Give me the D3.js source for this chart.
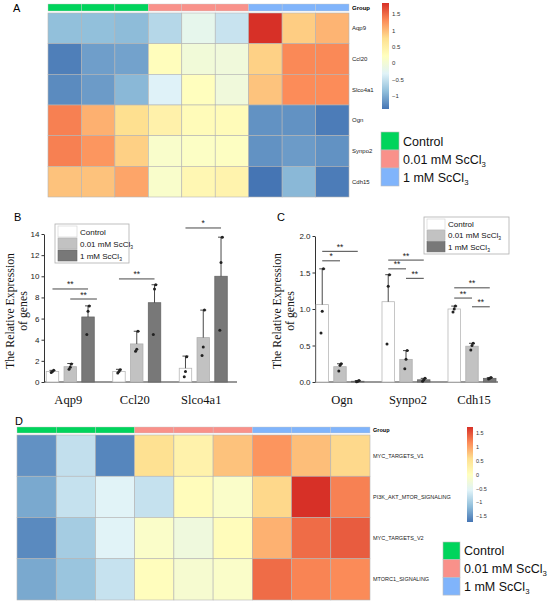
<!DOCTYPE html>
<html>
<head>
<meta charset="utf-8">
<script src="https://cdn.jsdelivr.net/npm/d3@7"></script>
<style>
  body { margin: 0; background: #fff; }
  text { font-family: Arial, "Liberation Sans", sans-serif; }
  text.serif { font-family: "Liberation Serif", "Times New Roman", serif; }
</style>
</head>
<body>
<script>
// ---------- data ----------
const groupNames = ["Control", "0.01 mM ScCl", "1 mM ScCl"];
const groupSubs = ["", "3", "3"];
const groupColors = ["#00d45c", "#f9918a", "#80b4fb"];
const sampleGroups = [0, 0, 0, 1, 1, 1, 2, 2, 2];

// heatmap A (z-scores)
const heatAGenes = ["Aqp9", "Ccl20", "Slco4a1", "Ogn", "Synpo2", "Cdh15"];
const heatAValues = [
  [-0.87, -0.87, -0.9, -0.63, -0.22, -0.5, 1.84, 0.88, 1.04],
  [-1.35, -1.12, -1.09, 0.24, -0.03, -0.06, 0.85, 1.32, 1.32],
  [-1.26, -1.14, -0.93, -0.34, 0.22, -0.06, 0.94, 1.3, 1.3],
  [1.37, 1.07, 0.75, 0.45, 0.28, 0.28, -1.21, -1.21, -1.37],
  [1.37, 1.24, 0.86, 0.1, 0.15, 0.18, -1.21, -1.14, -1.21],
  [0.95, 0.95, 1.14, 0.1, 0.35, 0.42, -1.42, -0.93, -1.37]
];
const heatARange = [-1.42, 1.84];
const heatATicks = [1.5, 1, 0.5, 0, -0.5, -1];

// heatmap D (GSVA scores)
const heatDSets = ["MYC_TARGETS_V1", "PI3K_AKT_MTOR_SIGNALING", "MYC_TARGETS_V2", "MTORC1_SIGNALING"];
const heatDValues = [
  [-1.5, -0.79, -1.59, 0.55, 0.24, 0.78, 1.09, 0.81, 0.62],
  [-1.32, -0.77, -0.56, -0.77, 0.05, -0.1, 0.63, 1.72, 1.22],
  [-1.56, -1.0, -0.56, -0.1, -0.3, 0.05, 0.9, 1.35, 1.45],
  [-1.32, -1.08, -0.76, 0.03, -0.17, -0.1, 1.35, 1.2, 1.16]
];
const heatDRange = [-1.72, 1.72];
const heatDTicks = [1.5, 1, 0.5, 0, -0.5, -1, -1.5];

// bar chart B
const barBGenes = ["Aqp9", "Ccl20", "Slco4a1"];
const barBMeans = [[1.0, 1.45, 6.15], [1.0, 3.6, 7.5], [1.3, 4.2, 10.0]];
const barBTops = [[1.1, 1.75, 7.2], [1.2, 4.8, 9.2], [2.45, 6.8, 13.7]];
const barBPoints = [
  [[0.9, 1.0, 1.1], [1.2, 1.4, 1.7], [4.5, 6.7, 7.2]],
  [[0.85, 1.0, 1.15], [2.9, 3.1, 4.8], [4.5, 8.8, 9.2]],
  [[0.5, 1.0, 2.4], [2.5, 3.3, 6.8], [4.9, 11.3, 13.7]]
];
const barBTicks = [0, 2, 4, 6, 8, 10, 12, 14];
const barBSig = [
  { gene: 0, from: 0, to: 2, y: 8.8, label: "**" },
  { gene: 0, from: 1, to: 2.5, y: 7.85, label: "**" },
  { gene: 1, from: 0, to: 2, y: 9.75, label: "**" },
  { gene: 2, from: 0, to: 2, y: 14.57, label: "*" }
];

// bar chart C
const barCGenes = ["Ogn", "Synpo2", "Cdh15"];
const barCMeans = [[1.06, 0.21, 0.01], [1.1, 0.31, 0.03], [1.0, 0.49, 0.05]];
const barCTops = [[1.55, 0.25, 0.02], [1.47, 0.43, 0.05], [1.04, 0.53, 0.06]];
const barCPoints = [
  [[0.67, 0.97, 1.55], [0.15, 0.23, 0.25], [0.005, 0.01, 0.02]],
  [[0.52, 1.31, 1.47], [0.18, 0.31, 0.43], [0.01, 0.03, 0.05]],
  [[0.96, 1.0, 1.04], [0.44, 0.5, 0.53], [0.04, 0.05, 0.06]]
];
const barCTicks = [0, 0.5, 1.0, 1.5, 2.0];
const barCSig = [
  { gene: 0, from: 0, to: 2, y: 1.79, label: "**" },
  { gene: 0, from: 0, to: 1, y: 1.66, label: "*" },
  { gene: 1, from: 0, to: 2, y: 1.67, label: "**" },
  { gene: 1, from: 0, to: 1, y: 1.55, label: "**" },
  { gene: 1, from: 1, to: 2, y: 1.42, label: "**" },
  { gene: 2, from: 0, to: 2, y: 1.29, label: "**" },
  { gene: 2, from: 0, to: 1, y: 1.15, label: "**" },
  { gene: 2, from: 1, to: 2, y: 1.03, label: "**" }
];

const barFills = ["#ffffff", "#c2c2c2", "#787878"];
const barStrokes = ["#b8b8b8", "#b0b0b0", "#666666"];
const palette = ["#4575b4", "#91bfdb", "#e0f3f8", "#ffffbf", "#fee090", "#fc8d59", "#d73027"];

// ---------- svg ----------
const svg = d3.select("body").append("svg").attr("width", 550).attr("height", 606);

function panelLetter(t, x, y) {
  svg.append("text").attr("x", x).attr("y", y).attr("font-size", 11).text(t);
}

function groupText(sel, i, size) {
  sel.append("tspan").text(groupNames[i]);
  if (groupSubs[i]) {
    sel.append("tspan").attr("font-size", size * 0.62).attr("dy", size * 0.25).text(groupSubs[i]);
  }
}

function heatmap(o) {
  const g = svg.append("g");
  const x = d3.scaleBand().domain(d3.range(9)).range([o.x0, o.x1]);
  const y = d3.scaleBand().domain(o.rows).range([o.y0, o.y1]);
  const color = d3.scaleLinear()
    .domain(d3.range(7).map(i => o.range[0] + i * (o.range[1] - o.range[0]) / 6))
    .range(palette);

  // group annotation bar
  g.selectAll(".ann").data(sampleGroups).enter().append("rect")
    .attr("x", (d, i) => x(i)).attr("y", o.barY0)
    .attr("width", x.bandwidth()).attr("height", o.barY1 - o.barY0)
    .attr("fill", d => groupColors[d]).attr("stroke", "#c8c8c8").attr("stroke-width", 0.4);
  g.append("text").attr("x", o.x1 + 3).attr("y", (o.barY0 + o.barY1) / 2 + 2)
    .attr("font-size", o.fs).attr("font-weight", "bold").text("Group");

  // cells
  o.rows.forEach((r, ri) => {
    g.selectAll(null).data(o.values[ri]).enter().append("rect")
      .attr("x", (d, i) => x(i)).attr("y", y(r))
      .attr("width", x.bandwidth()).attr("height", y.bandwidth())
      .attr("fill", d => color(d)).attr("stroke", "#b4b4b4").attr("stroke-width", 0.6);
  });
  g.selectAll(".rl").data(o.rows).enter().append("text")
    .attr("x", o.x1 + 3).attr("y", d => y(d) + y.bandwidth() / 2 + o.fs * 0.35)
    .attr("font-size", o.fs).attr("fill", "#222").text(d => d);

  // colour bar
  const cb = d3.scaleLinear().domain(o.range).range([o.cb.y1, o.cb.y0]);
  const gid = "grad" + o.id;
  const grad = svg.append("defs").append("linearGradient").attr("id", gid)
    .attr("x1", 0).attr("y1", 1).attr("x2", 0).attr("y2", 0);
  palette.forEach((c, i) => grad.append("stop").attr("offset", i / 6).attr("stop-color", c));
  g.append("rect").attr("x", o.cb.x).attr("y", o.cb.y0).attr("width", o.cb.w)
    .attr("height", o.cb.y1 - o.cb.y0).attr("fill", `url(#${gid})`);
  g.append("g").attr("transform", `translate(${o.cb.x + o.cb.w},0)`)
    .call(d3.axisRight(cb).tickValues(o.ticks).tickSize(0).tickPadding(3).tickFormat(d => String(d).replace("-", "\u2212")))
    .call(s => {
      s.select(".domain").remove();
      s.selectAll("text").attr("font-size", o.fs).attr("fill", "#333");
    });

  // group legend
  const lg = g.append("g");
  groupNames.forEach((n, i) => {
    const yy = o.lg.y + i * o.lg.h;
    lg.append("rect").attr("x", o.lg.x).attr("y", yy).attr("width", o.lg.w).attr("height", o.lg.h)
      .attr("fill", groupColors[i]).attr("stroke", "#bdbdbd").attr("stroke-width", 0.6);
    const t = lg.append("text").attr("x", o.lg.x + o.lg.w + 4).attr("y", yy + o.lg.h / 2 + 4.5)
      .attr("font-size", 12.5).attr("fill", "#111");
    groupText(t, i, 12.5);
  });
}

function barPanel(o) {
  const g = svg.append("g");
  const base = 382;
  const y = d3.scaleLinear().domain(o.domain).range([base, o.yTop]);
  const x = d3.scaleBand().domain(d3.range(o.genes.length)).range(o.xRange);
  const bw = x.bandwidth();
  const xi = d3.scaleBand().domain([0, 1, 2]).range([bw / 2 - 24, bw / 2 + 24]).paddingInner(0.3);
  const cx = (gi, j) => x(gi) + xi(0) + xi.bandwidth() / 2 + j * xi.step();

  // y axis
  g.append("g").attr("transform", `translate(${o.axisX},0)`)
    .call(d3.axisLeft(y).tickValues(o.ticks).tickFormat(o.fmt).tickSizeInner(2.5).tickSizeOuter(0).tickPadding(2))
    .call(s => {
      s.selectAll("text").attr("font-size", 8).attr("fill", "#222");
      s.selectAll("line").attr("stroke", "#333");
      s.select(".domain").attr("stroke", "#333");
    });
  // x axis line
  g.append("line").attr("x1", o.axisX).attr("x2", o.axisEnd).attr("y1", base).attr("y2", base)
    .attr("stroke", "#333").attr("stroke-width", 1);
  g.selectAll(".xl").data(o.genes).enter().append("text")
    .attr("class", "serif")
    .attr("x", (d, i) => x(i) + bw / 2 + o.labelShift).attr("y", 404)
    .attr("text-anchor", "middle").attr("font-size", 12.5).attr("fill", "#111").text(d => d);

  // y title
  const tt = g.append("text").attr("class", "serif")
    .attr("transform", `translate(${o.titleX},311) rotate(-90)`)
    .attr("text-anchor", "middle").attr("font-size", 11.8).attr("fill", "#111");
  tt.append("tspan").attr("x", 0).attr("dy", 0).text("The Relative Expression");
  tt.append("tspan").attr("x", 0).attr("dy", 13).text("of genes");

  o.genes.forEach((gene, gi) => {
    const gg = g.append("g");
    gg.selectAll("rect").data(o.means[gi]).enter().append("rect")
      .attr("x", (d, j) => x(gi) + xi(j)).attr("y", d => y(d))
      .attr("width", xi.bandwidth()).attr("height", d => base - y(d))
      .attr("fill", (d, j) => barFills[j]).attr("stroke", (d, j) => barStrokes[j]).attr("stroke-width", 0.8);
    // error bars (upper only)
    o.tops[gi].forEach((t, j) => {
      const c = cx(gi, j);
      gg.append("line").attr("x1", c).attr("x2", c).attr("y1", y(o.means[gi][j])).attr("y2", y(t))
        .attr("stroke", "#333").attr("stroke-width", 0.9);
      gg.append("line").attr("x1", c - 3).attr("x2", c + 3).attr("y1", y(t)).attr("y2", y(t))
        .attr("stroke", "#333").attr("stroke-width", 0.9);
    });
    // points
    o.points[gi].forEach((pts, j) => {
      gg.selectAll(null).data(pts).enter().append("circle")
        .attr("cx", (d, k) => cx(gi, j) + (k - 1) * 1.2).attr("cy", d => y(d))
        .attr("r", 1.5).attr("fill", "#222");
    });
  });

  // significance
  o.sig.forEach(s => {
    const x1 = cx(s.gene, s.from), x2 = cx(s.gene, s.to), yy = y(s.y);
    g.append("line").attr("x1", x1).attr("x2", x2).attr("y1", yy).attr("y2", yy)
      .attr("stroke", "#333").attr("stroke-width", 0.9);
    g.append("text").attr("x", (x1 + x2) / 2).attr("y", yy - 1.5).attr("text-anchor", "middle")
      .attr("font-size", 8.5).attr("fill", "#222").text(s.label);
  });

  // legend
  const L = o.legend;
  g.append("rect").attr("x", L.x).attr("y", L.y).attr("width", L.w).attr("height", L.h)
    .attr("fill", "#fff").attr("stroke", "#b0b0b0").attr("stroke-width", 0.8);
  groupNames.forEach((n, i) => {
    const yy = L.y + 2 + i * L.row;
    g.append("rect").attr("x", L.x + 3).attr("y", yy).attr("width", L.sw).attr("height", L.row - 1)
      .attr("fill", barFills[i]).attr("stroke", i === 0 ? "#d0d0d0" : barStrokes[i]).attr("stroke-width", 0.6);
    const t = g.append("text").attr("x", L.x + L.sw + 6).attr("y", yy + L.row / 2 + 2.5)
      .attr("font-size", 8).attr("fill", "#111");
    groupText(t, i, 8);
  });
}

// ---------- panels ----------
panelLetter("A", 13, 12);
heatmap({
  id: "A", rows: heatAGenes, values: heatAValues, range: heatARange, ticks: heatATicks,
  x0: 48, x1: 349, y0: 13, y1: 197, barY0: 4, barY1: 11, fs: 6,
  cb: { x: 382, w: 7, y0: 3, y1: 109 },
  lg: { x: 381, y: 132, w: 18, h: 18 }
});

panelLetter("B", 14, 221);
barPanel({
  genes: barBGenes, means: barBMeans, tops: barBTops, points: barBPoints, sig: barBSig,
  domain: [0, 14], yTop: 234, ticks: barBTicks, fmt: d3.format("d"),
  xRange: [37, 236.5], axisX: 44, axisEnd: 237, labelShift: -2, titleX: 14,
  legend: { x: 55, y: 224, w: 74, h: 39, row: 12, sw: 19 }
});

panelLetter("C", 277, 221);
barPanel({
  genes: barCGenes, means: barCMeans, tops: barCTops, points: barCPoints, sig: barCSig,
  domain: [0, 2], yTop: 236, ticks: barCTicks, fmt: d3.format(".1f"),
  xRange: [307, 505], axisX: 315, axisEnd: 498, labelShift: 2, titleX: 281,
  legend: { x: 424, y: 217, w: 85, h: 37, row: 11.3, sw: 18 }
});

panelLetter("D", 15, 425);
heatmap({
  id: "D", rows: heatDSets, values: heatDValues, range: heatDRange, ticks: heatDTicks,
  x0: 17, x1: 370, y0: 435, y1: 600, barY0: 427, barY1: 433, fs: 5.5,
  cb: { x: 467, w: 6, y0: 427, y1: 522 },
  lg: { x: 443, y: 542, w: 17, h: 17.7 }
});
</script>
</body>
</html>
